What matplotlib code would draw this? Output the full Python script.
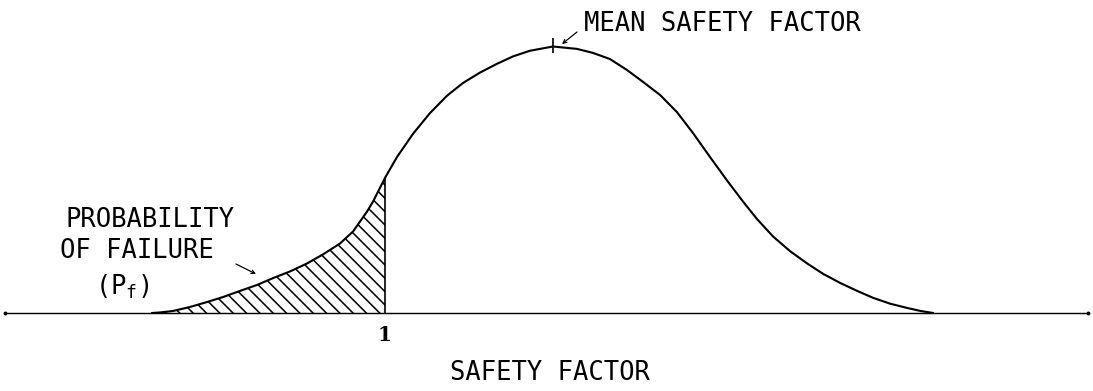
import matplotlib
matplotlib.use("Agg")
import matplotlib.pyplot as plt
import numpy as np

# ---- data ----
safety_factor = [-0.110, -0.071, -0.010, 0.071, 0.152, 0.229, 0.310, 0.390, 0.467, 0.548,
                 0.629, 0.705, 0.786, 0.848, 0.914, 0.943, 1.000, 1.057, 1.133, 1.214,
                 1.295, 1.371, 1.452, 1.533, 1.610, 1.690, 1.800, 1.914, 1.990, 2.071,
                 2.152, 2.229, 2.310, 2.390, 2.467, 2.548, 2.629, 2.705, 2.771, 2.848,
                 2.929, 3.010, 3.086, 3.167, 3.248, 3.324, 3.405, 3.486, 3.548, 3.610]
density = [0.0, 0.002, 0.0075, 0.0225, 0.041, 0.060, 0.083, 0.105, 0.131, 0.156,
           0.186, 0.220, 0.261, 0.306, 0.380, 0.418, 0.507, 0.585, 0.672, 0.750,
           0.815, 0.863, 0.902, 0.935, 0.963, 0.984, 1.000, 0.991, 0.976, 0.953,
           0.912, 0.867, 0.818, 0.754, 0.675, 0.585, 0.497, 0.418, 0.353, 0.287,
           0.232, 0.186, 0.147, 0.113, 0.083, 0.057, 0.035, 0.019, 0.008, 0.0]
failure_limit = 1.0
mean_sf = 1.8
tick_labels = ["1"]

plt.rcParams['hatch.linewidth'] = 1.4
plt.rcParams['mathtext.fontset'] = 'custom'
plt.rcParams['mathtext.rm'] = 'DejaVu Sans Mono'

W, H, DPI = 1093, 391, 80
fig = plt.figure(figsize=(W / DPI, H / DPI), dpi=DPI)
ax = fig.add_axes([0, 0, 1, 1])
ax.set_xlim(-0.8333, 4.3714)
ax.set_ylim(-0.2927, 1.1745)
ax.axis('off')

x = np.array(safety_factor)
y = np.array(density)

# baseline
ax.plot([-0.810, 4.348], [0, 0], color='black', lw=1.3, solid_capstyle='round')
ax.plot([-0.810, 4.348], [0, 0], 'o', color='black', ms=2.5)

# curve
ax.plot(x, y, color='black', lw=1.9, solid_joinstyle='round', solid_capstyle='round')

# hatched probability of failure
m = x <= failure_limit
ax.fill_between(x[m], y[m], 0, facecolor='none', edgecolor='black',
                hatch='\\\\', linewidth=0)
ax.vlines(failure_limit, 0, y[x == failure_limit][0], color='black', lw=1.5)

# mean tick
ax.vlines(mean_sf, 0.976, 1.032, color='black', lw=1.5)

# tick label
ax.text(failure_limit, -0.083, tick_labels[0], ha='center', va='center',
        fontsize=18, fontweight='bold', family='DejaVu Serif')

def P(px, py):
    return px / W, 1 - py / H

tf = dict(family='DejaVu Sans Mono', fontsize=23, color='black')

fig.text(*P(150, 220), "PROBABILITY", ha='center', va='center', **tf)
fig.text(*P(137, 251), "OF FAILURE", ha='center', va='center', **tf)
fig.text(*P(122, 287), "(P$_{\\mathrm{f}}$)", ha='center', va='center', **tf)
fig.text(*P(584, 24), "MEAN SAFETY FACTOR", ha='left', va='center', **tf)
fig.text(*P(550, 373), "SAFETY FACTOR", ha='center', va='center', **tf)

# small arrows
ax.annotate("", xy=(1 + (256 - 385) / 210, (313 - 274) / 266.5),
            xytext=(1 + (236 - 385) / 210, (313 - 264) / 266.5),
            arrowprops=dict(arrowstyle='->', lw=1.1, color='black',
                            mutation_scale=8, shrinkA=0, shrinkB=0))
ax.annotate("", xy=(1 + (562 - 385) / 210, (313 - 44) / 266.5),
            xytext=(1 + (577 - 385) / 210, (313 - 32) / 266.5),
            arrowprops=dict(arrowstyle='->', lw=1.1, color='black',
                            mutation_scale=8, shrinkA=0, shrinkB=0))

fig.savefig("out.png", dpi=DPI)
